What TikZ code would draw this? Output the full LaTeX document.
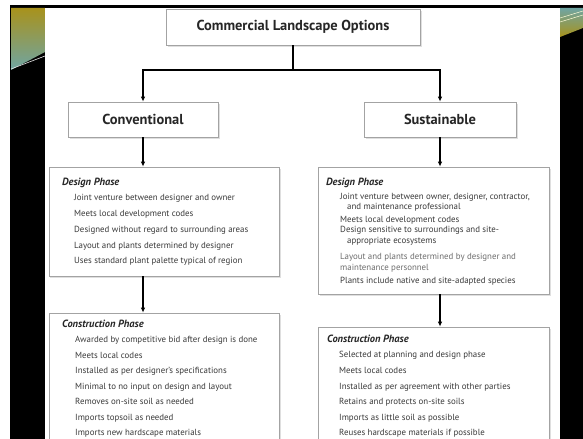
\documentclass[tikz,border=0pt]{standalone}
\usepackage{fontspec}
\setmainfont{PT Sans}
\usetikzlibrary{arrows.meta,shadows}
\definecolor{boxline}{HTML}{A3A3A3}
\definecolor{itemgray}{HTML}{3A3A3A}
\definecolor{softgray}{HTML}{6E6E6E}
\definecolor{slidegold}{HTML}{A8921C}
\definecolor{slideteal}{HTML}{6FA5A3}
\begin{document}
\begin{tikzpicture}[x=1bp,y=-1bp,>={Latex[length=5bp,width=4.5bp]},
  box/.style={draw=boxline,fill=white,line width=0.7bp,inner sep=0pt,drop shadow={opacity=0.25,shadow xshift=1.5bp,shadow yshift=-2bp}},
  headtext/.style={font=\bfseries\fontsize{14.5}{16}\selectfont,text=black!85},
  phase/.style={anchor=base west,inner sep=0pt,font=\bfseries\itshape\fontsize{10.5}{12}\selectfont,text=black!85},
  item/.style={anchor=base west,inner sep=0pt,font=\fontsize{8.9}{10}\selectfont,text=itemgray},
  link/.style={line width=1.1bp}]

  \useasboundingbox (0,0) rectangle (583,439);
  \fill[white] (0,0) rectangle (583,439);
  \fill[black] (10,5) rectangle (583,439);
  \shade[top color=slidegold,bottom color=slideteal] (11,8) -- (45,8) -- (45,52) -- (11,70) -- cycle;
  \draw[white!80!gray,line width=0.6bp] (11,69) -- (45,56);
  \shade[top color=slideteal,bottom color=slidegold] (560,8) -- (583,8) -- (583,28) -- (560,37) -- cycle;
  \draw[white!85!yellow,line width=0.5bp] (560,18) -- (583,11) (560,22) -- (583,15);
  \fill[white] (45,8) rectangle (560,439);

  \node[box,headtext,minimum width=254bp,minimum height=36bp] (top) at (293,27) {Commercial Landscape Options};
  \node[box,headtext,minimum width=150bp,minimum height=35bp] (conv) at (143,119.5) {Conventional};
  \node[box,headtext,minimum width=152bp,minimum height=35bp] (sust) at (440,119.5) {Sustainable};
  \node[box,minimum width=230bp,minimum height=109bp] (ldesign) at (164,221.5) {};
  \node[box,minimum width=231bp,minimum height=127bp] (rdesign) at (433.5,230.5) {};
  \node[box,minimum width=230bp,minimum height=150bp] (lcons) at (164,388) {};
  \node[box,minimum width=231bp,minimum height=136bp] (rcons) at (433.5,395) {};

  \coordinate (split) at (293,70);
  \draw[link] (top) -- (split);
  \draw[link,->] (split) -| (conv);
  \draw[link,->] (split) -| (sust);
  \draw[link,->] (conv) -- (conv |- ldesign.north);
  \draw[link,->] (conv |- ldesign.south) -- (conv |- lcons.north);
  \draw[link,->] (sust) -- (sust |- rdesign.north);
  \draw[link,->] (sust |- rdesign.south) -- (sust |- rcons.north);

  \node[phase] (ldtitle) at (62,186) {Design Phase};
  \node[item] (ld1) at (74,201) {Joint venture between designer and owner};
  \node[item] (ld2) at (74,217) {Meets local development codes};
  \node[item] (ld3) at (74,233) {Designed without regard to surrounding areas};
  \node[item] (ld4) at (74,249) {Layout and plants determined by designer};
  \node[item] (ld5) at (74,264) {Uses standard plant palette typical of region};

  \node[phase] (rdtitle) at (326,186) {Design Phase};
  \node[item] (rd1) at (340,200) {Joint venture between owner, designer, contractor,};
  \node[item] (rd1b) at (347,210) {and maintenance professional};
  \node[item] (rd2) at (340,223) {Meets local development codes};
  \node[item] (rd3) at (340,233) {Design sensitive to surroundings and site-};
  \node[item] (rd3b) at (347,244) {appropriate ecosystems};
  \node[item,text=softgray] (rd4) at (340,260) {Layout and plants determined by designer and};
  \node[item,text=softgray] (rd4b) at (340,271) {maintenance personnel};
  \node[item] (rd5) at (340,284) {Plants include native and site-adapted species};

  \node[phase] (lctitle) at (62,327) {Construction Phase};
  \node[item] (lc1) at (75,342) {Awarded by competitive bid after design is done};
  \node[item] (lc2) at (75,358) {Meets local codes};
  \node[item] (lc3) at (75,373) {Installed as per designer's specifications};
  \node[item] (lc4) at (75,389) {Minimal to no input on design and layout};
  \node[item] (lc5) at (75,404) {Removes on-site soil as needed};
  \node[item] (lc6) at (75,420) {Imports topsoil as needed};
  \node[item] (lc7) at (75,435) {Imports new hardscape materials};

  \node[phase] (rctitle) at (327,342) {Construction Phase};
  \node[item] (rc1) at (339,357) {Selected at planning and design phase};
  \node[item] (rc2) at (339,373) {Meets local codes};
  \node[item] (rc3) at (339,389) {Installed as per agreement with other parties};
  \node[item] (rc4) at (339,404) {Retains and protects on-site soils};
  \node[item] (rc5) at (339,420) {Imports as little soil as possible};
  \node[item] (rc6) at (339,435) {Reuses hardscape materials if possible};
\end{tikzpicture}
\end{document}
